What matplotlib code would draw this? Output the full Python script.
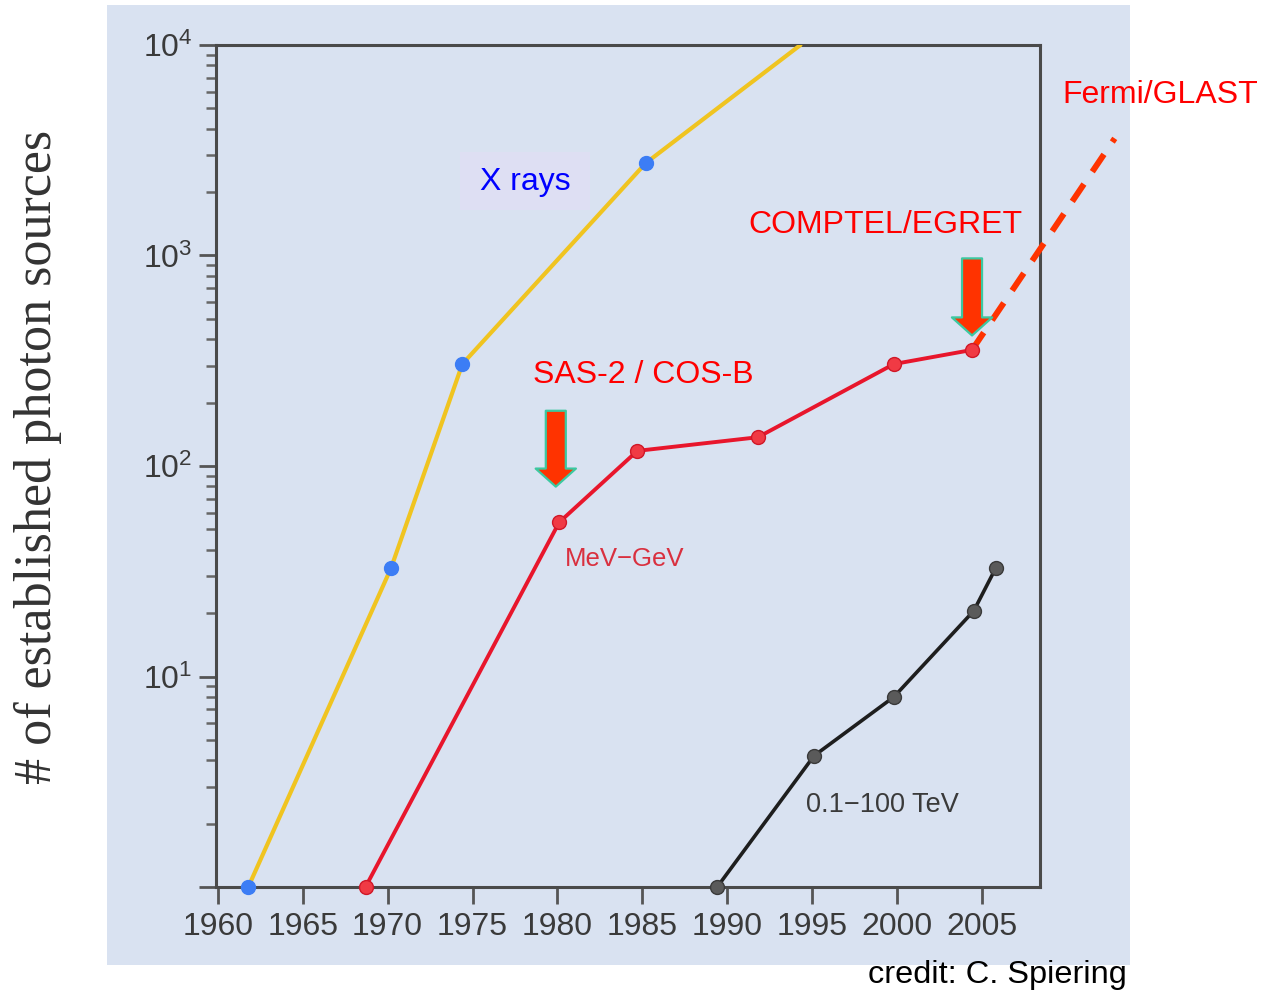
import math
import matplotlib
matplotlib.use("Agg")
import matplotlib.pyplot as plt
from matplotlib.patches import Rectangle, ArrowStyle
from matplotlib.ticker import FixedLocator, FuncFormatter, LogLocator, NullFormatter

# ---------------- data ----------------
xray_years = [1961.8, 1970.2, 1974.4, 1985.2, 1994.3]
xray_counts = [1, 32.7, 305, 2750, 10000]

mev_years = [1968.7, 1980.1, 1984.7, 1991.8, 1999.8, 2004.4]
mev_counts = [1, 54, 118, 137, 305, 356]

fermi_years = [2004.4, 2012.8]
fermi_counts = [356, 3600]

tev_years = [1989.4, 1995.1, 1999.8, 2004.5, 2005.8]
tev_counts = [1, 4.2, 8.0, 20.5, 32.8]

x_ticks = [1960, 1965, 1970, 1975, 1980, 1985, 1990, 1995, 2000, 2005]
y_ticks = [1, 10, 100, 1000, 10000]

arrow_years = [1979.9, 2004.4]
arrow_tails = [183, 969]
arrow_tips = [79.8, 417]

W, H = 1265, 996
def fx(px):
    return px / W
def fy(py):
    return 1 - py / H

plt.rcParams['font.family'] = ['Liberation Sans', 'DejaVu Sans']
plt.rcParams['mathtext.default'] = 'regular'

fig = plt.figure(figsize=(W / 100, H / 100), dpi=100, facecolor='white')

bg = '#D9E2F1'
fig.patches.append(Rectangle((fx(107), fy(965)), fx(1130) - fx(107), fy(5) - fy(965),
                             transform=fig.transFigure, facecolor=bg, edgecolor='none',
                             zorder=-10))

ax = fig.add_axes([fx(216), fy(887), fx(1040) - fx(216), fy(45) - fy(887)])
ax.set_zorder(1)
ax.set_facecolor(bg)
ax.set_yscale('log')
ax.set_xlim(1959.9, 2008.4)
ax.set_ylim(1, 10000)

spine_c = '#4a4a4a'
for s in ax.spines.values():
    s.set_color(spine_c)
    s.set_linewidth(2.2)

ax.xaxis.set_major_locator(FixedLocator(x_ticks))
ax.yaxis.set_major_locator(FixedLocator(y_ticks))
ax.yaxis.set_minor_locator(LogLocator(base=10, subs=range(2, 10), numticks=20))
ax.yaxis.set_minor_formatter(NullFormatter())

def yfmt(v, pos):
    if v < 5:
        return ''
    e = int(round(math.log10(v)))
    return r'$10^{%d}$' % e
ax.yaxis.set_major_formatter(FuncFormatter(yfmt))

lab_c = '#3a3a3a'
ax.tick_params(axis='x', which='major', direction='out', length=12, width=2, color='#555555',
               labelsize=23, labelcolor=lab_c, pad=6)
ax.tick_params(axis='y', which='major', direction='out', length=12, width=2, color='#555555',
               labelsize=23, labelcolor=lab_c, pad=5)
ax.tick_params(axis='y', which='minor', direction='out', length=7, width=1.8, color='#666666')

# X rays label box
ax.add_patch(Rectangle((fx(460), fy(210)), fx(590) - fx(460), fy(152) - fy(210),
                       transform=fig.transFigure, facecolor='#DEDFF3', edgecolor='none',
                       zorder=1))

# X rays
ax.plot(xray_years, xray_counts, color='#F0C420', lw=3, zorder=3, solid_capstyle='round')
ax.plot(xray_years[:-1], xray_counts[:-1], 'o', color='#3C7DF5', ms=10, mec='#3C7DF5', zorder=4,
        clip_on=False)

# MeV-GeV
ax.plot(mev_years, mev_counts, color='#E8162C', lw=2.8, zorder=3)
ax.plot(mev_years, mev_counts, 'o', color='#F03A44', ms=10, mec='#D01828', mew=1, zorder=4,
        clip_on=False)

# Fermi dashed extension
ax.plot(fermi_years, fermi_counts, color='#FF3300', lw=4.3, dashes=(3.5, 2.5), clip_on=False,
        zorder=3)

# TeV
ax.plot(tev_years, tev_counts, color='#1e1e1e', lw=2.6, zorder=3)
ax.plot(tev_years, tev_counts, 'o', color='#5a5a5a', ms=10, mec='#3a3a3a', mew=1, zorder=4,
        clip_on=False)

# arrows
style = ArrowStyle.Simple(head_length=0.65, head_width=1.45, tail_width=0.72)
for xa, yt, yp in zip(arrow_years, arrow_tails, arrow_tips):
    ax.annotate('', xy=(xa, yp), xytext=(xa, yt), xycoords='data', textcoords='data',
                arrowprops=dict(arrowstyle=style, fc='#FF3300', ec='#3CC8A0', lw=1.6,
                                shrinkA=0, shrinkB=0, mutation_scale=20), zorder=5)

# labels
fig.text(fx(525), fy(182), 'X rays', color='#0000FF', fontsize=23, ha='center', va='center',
         zorder=6)
fig.text(fx(1160), fy(95), 'Fermi/GLAST', color='#FF0000', fontsize=23, ha='center', va='center')
fig.text(fx(885), fy(225), 'COMPTEL/EGRET', color='#FF0000', fontsize=23, ha='center',
         va='center', zorder=6)
fig.text(fx(643), fy(375), 'SAS-2 / COS-B', color='#FF0000', fontsize=23, ha='center',
         va='center', zorder=6)
fig.text(fx(625), fy(559), 'MeV\u2212GeV', color='#D9303F', fontsize=18.5, ha='center',
         va='center', zorder=6)
fig.text(fx(882), fy(805), '0.1\u2212100 TeV', color='#3a3a3a', fontsize=19.5, ha='center',
         va='center', zorder=6)
fig.text(fx(997), fy(975), 'credit: C. Spiering', color='black', fontsize=23.4, ha='center',
         va='center', zorder=6)
fig.text(fx(38), fy(457), '# of established photon sources', rotation=90, fontsize=37.5,
         ha='center', va='center', color='#333333',
         family=['Liberation Serif', 'DejaVu Serif'])

fig.savefig('out.png', dpi=100, facecolor='white')
